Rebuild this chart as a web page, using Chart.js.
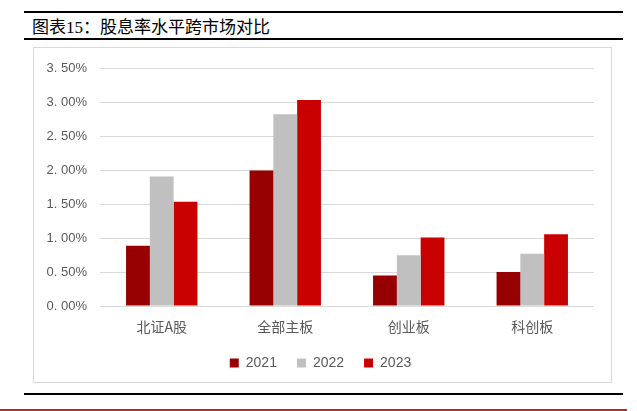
<!DOCTYPE html>
<html>
<head>
<meta charset="utf-8">
<script src="https://cdn.jsdelivr.net/npm/chart.js@4"></script>
<style>
    body { margin: 0; background: #fff; width: 637px; height: 411px; position: relative; overflow: hidden; }
    .rule { position: absolute; background: #000; }
    #title { position: absolute; left: 32px; top: 13px; font: 17px "Liberation Serif", "Noto Sans CJK SC", serif; color: #000; white-space: nowrap; }
    #box { position: absolute; left: 33px; top: 47px; width: 579px; height: 336px; box-sizing: border-box; border: 1px solid #d9d9d9; }
    #chartWrap { position: absolute; left: 0; top: 0; width: 577px; height: 334px; }
</style>
</head>
<body>
<div class="rule" style="left:24px;top:11px;width:599px;height:2px;"></div>
<div id="title">图表15：股息率水平跨市场对比</div>
<div class="rule" style="left:24px;top:38px;width:599px;height:2px;"></div>
<div id="box">
    <div id="chartWrap"><canvas id="dividendChart" width="577" height="334"></canvas></div>
</div>
<div class="rule" style="left:24px;top:393px;width:599px;height:2px;"></div>
<div class="rule" style="left:0;top:409px;width:627px;height:2px;background:#c0282a;"></div>

<script>
// 股息率（%）
const markets = ['北证A股', '全部主板', '创业板', '科创板'];
const years = ['2021', '2022', '2023'];
const yield2021 = [0.89, 2.00, 0.45, 0.50];
const yield2022 = [1.91, 2.83, 0.75, 0.77];
const yield2023 = [1.54, 3.04, 1.01, 1.06];
const yearColors = ['#960000', '#c0c0c0', '#c80000'];

const textGray = '#595959';

const ctx = document.getElementById('dividendChart').getContext('2d');
const dividendChart = new Chart(ctx, {
    type: 'bar',
    data: {
        labels: markets,
        datasets: [yield2021, yield2022, yield2023].map((values, i) => ({
            label: years[i],
            data: values,
            backgroundColor: yearColors[i],
            borderWidth: 0,
            barPercentage: 1,
            categoryPercentage: 0.578
        }))
    },
    options: {
        responsive: false,
        animation: false,
        layout: {
            padding: { top: 15, right: 17, bottom: 6, left: 13 }
        },
        scales: {
            x: {
                afterFit: (scale) => { scale.height = 30; },
                grid: { display: false, drawTicks: false },
                border: { display: false },
                ticks: {
                    color: textGray,
                    padding: 12,
                    font: { family: '"Noto Sans CJK SC", sans-serif', size: 14 }
                }
            },
            y: {
                min: 0,
                max: 3.5,
                afterFit: (scale) => { scale.width = 53; },
                grid: { color: '#d9d9d9', lineWidth: 1, drawTicks: false },
                border: { display: false },
                ticks: {
                    stepSize: 0.5,
                    color: textGray,
                    padding: 13,
                    font: { family: '"Liberation Sans", Arial, sans-serif', size: 13 },
                    callback: (value) => value.toFixed(2).replace('.', '. ') + '%'
                }
            }
        },
        plugins: {
            legend: {
                position: 'bottom',
                maxHeight: 40,
                labels: {
                    boxWidth: 9,
                    boxHeight: 9,
                    padding: 20,
                    color: textGray,
                    font: { family: '"Liberation Sans", Arial, sans-serif', size: 14 }
                }
            },
            tooltip: { enabled: false }
        }
    }
});
</script>
</body>
</html>
